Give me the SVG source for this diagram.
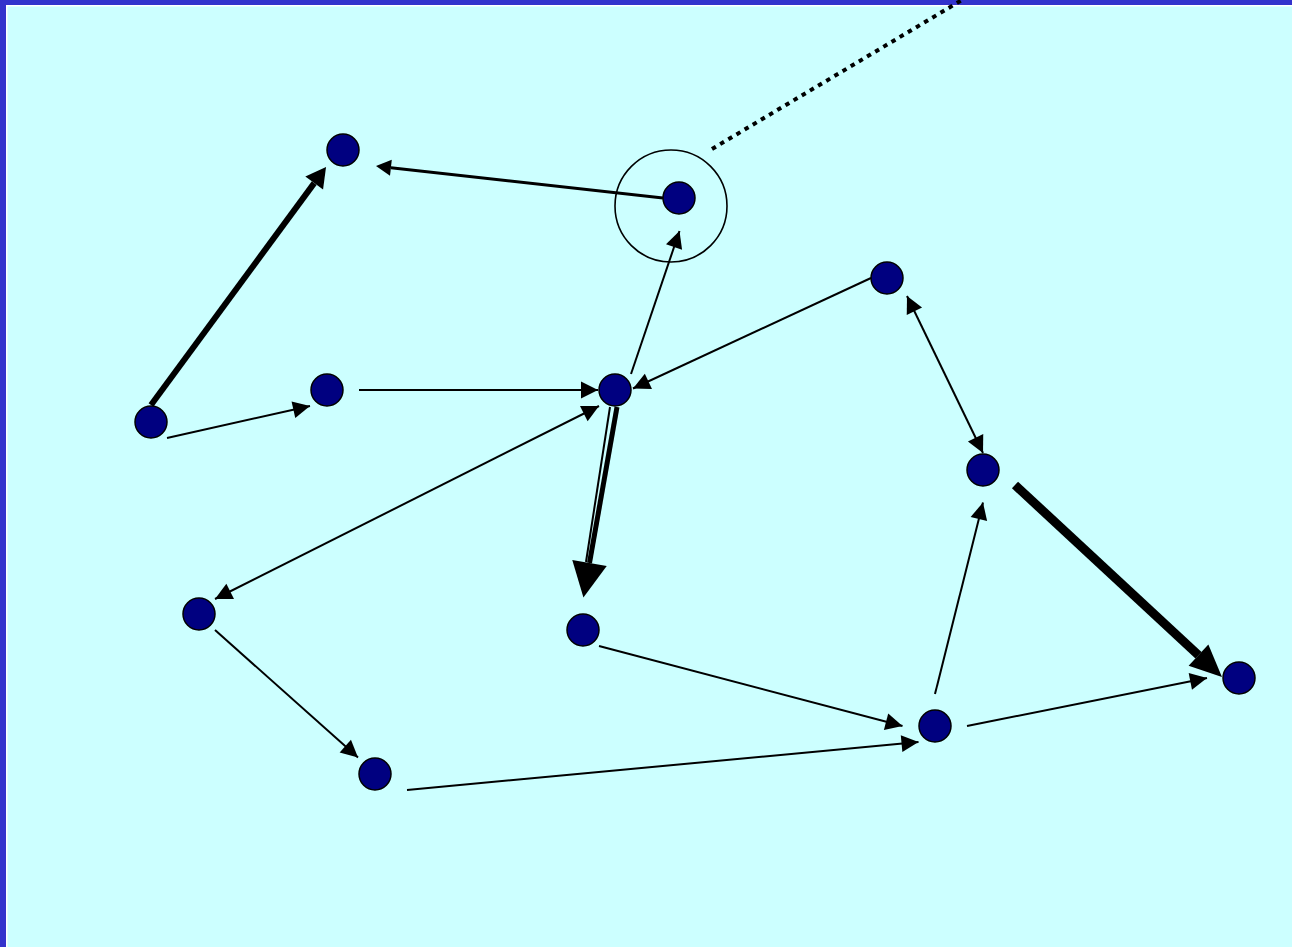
<svg xmlns="http://www.w3.org/2000/svg" width="1292" height="947" viewBox="0 0 1292 947">
  <style>
    .node { fill: #000080; stroke: #000000; stroke-width: 1.5; }
    .ln { stroke: #000000; fill: none; stroke-linecap: butt; }
    .thin { stroke-width: 2; marker-end: url(#ah); }
    .both { stroke-width: 2; marker-start: url(#ahs); marker-end: url(#ah); }
  </style>
  <defs>
    <marker id="ah" markerUnits="userSpaceOnUse" orient="auto" refX="0" refY="0" markerWidth="20" markerHeight="20" overflow="visible">
      <path d="M0,0 L-17,-8.5 L-17,8.5 Z" fill="#000"/>
    </marker>
    <marker id="ahs" markerUnits="userSpaceOnUse" orient="auto-start-reverse" refX="0" refY="0" markerWidth="20" markerHeight="20" overflow="visible">
      <path d="M0,0 L-17,-8.5 L-17,8.5 Z" fill="#000"/>
    </marker>
    <marker id="ahMed" markerUnits="userSpaceOnUse" orient="auto" refX="0" refY="0" markerWidth="20" markerHeight="20" overflow="visible">
      <path d="M0,-8 L15,0 L0,8 Z" fill="#000"/>
    </marker>
    <marker id="ahThick" markerUnits="userSpaceOnUse" orient="auto" refX="0" refY="0" markerWidth="24" markerHeight="24" overflow="visible">
      <path d="M0,-11 L20,0 L0,11 Z" fill="#000"/>
    </marker>
    <marker id="ahBig" markerUnits="userSpaceOnUse" orient="auto" refX="0" refY="0" markerWidth="40" markerHeight="40" overflow="visible">
      <path d="M0,-17.5 L35,0 L0,17.5 Z" fill="#000"/>
    </marker>
    <marker id="ahHuge" markerUnits="userSpaceOnUse" orient="auto" refX="0" refY="0" markerWidth="40" markerHeight="40" overflow="visible">
      <path d="M0,-14.5 L32,0 L0,14.5 Z" fill="#000"/>
    </marker>
  </defs>

  <!-- background / frame -->
  <rect x="0" y="0" width="1292" height="947" fill="#3333cc"/>
  <rect x="6" y="5" width="1286" height="942" fill="#ffffff"/>
  <rect x="7.5" y="6.5" width="1284.5" height="940.5" fill="#ccffff"/>

  <!-- connectors -->
  <g id="connectors">
    <line class="ln" x1="151" y1="405" x2="314.2" y2="183.1" stroke-width="6" marker-end="url(#ahThick)"/>
    <line class="ln" x1="663" y1="198" x2="390.9" y2="167.7" stroke-width="3" marker-end="url(#ahMed)"/>
    <line class="ln thin" x1="167" y1="438" x2="310" y2="406"/>
    <line class="ln thin" x1="359" y1="390" x2="598" y2="390"/>
    <line class="ln thin" x1="631" y1="374" x2="679.5" y2="231"/>
    <line class="ln thin" x1="871" y1="278" x2="633" y2="388.5"/>
    <line class="ln both" x1="907" y1="296" x2="983" y2="453"/>
    <line class="ln both" x1="599" y1="406" x2="215" y2="599"/>
    <line class="ln" x1="610" y1="407" x2="586" y2="562" stroke-width="2"/>
    <line class="ln" x1="617" y1="407" x2="589.5" y2="563" stroke-width="5" marker-end="url(#ahBig)"/>
    <line class="ln" x1="1015" y1="485" x2="1198.5" y2="655.2" stroke-width="9" marker-end="url(#ahHuge)"/>
    <line class="ln thin" x1="967" y1="726" x2="1207" y2="678"/>
    <line class="ln thin" x1="215" y1="630" x2="358" y2="757.5"/>
    <line class="ln thin" x1="599" y1="646" x2="902.5" y2="726"/>
    <line class="ln thin" x1="407" y1="790" x2="918.5" y2="742"/>
    <line class="ln thin" x1="935" y1="694" x2="983" y2="502.5"/>
    <line class="ln" x1="712" y1="149" x2="962" y2="0" stroke-width="4" stroke-dasharray="4.5 5"/>
  </g>

  <!-- highlight ring -->
  <g id="ring">
    <circle cx="671" cy="206" r="56" fill="none" stroke="#000" stroke-width="1.6"/>
  </g>

  <!-- nodes -->
  <g id="nA"><circle class="node" cx="343" cy="150" r="16"/></g>
  <g id="nB"><circle class="node" cx="679" cy="198" r="16"/></g>
  <g id="nC"><circle class="node" cx="887" cy="278" r="16"/></g>
  <g id="nD"><circle class="node" cx="327" cy="390" r="16"/></g>
  <g id="nE"><circle class="node" cx="151" cy="422" r="16"/></g>
  <g id="nF"><circle class="node" cx="615" cy="390" r="16"/></g>
  <g id="nG"><circle class="node" cx="983" cy="470" r="16"/></g>
  <g id="nH"><circle class="node" cx="199" cy="614" r="16"/></g>
  <g id="nI"><circle class="node" cx="583" cy="630" r="16"/></g>
  <g id="nJ"><circle class="node" cx="935" cy="726" r="16"/></g>
  <g id="nK"><circle class="node" cx="375" cy="774" r="16"/></g>
  <g id="nL"><circle class="node" cx="1239" cy="678" r="16"/></g>
</svg>
